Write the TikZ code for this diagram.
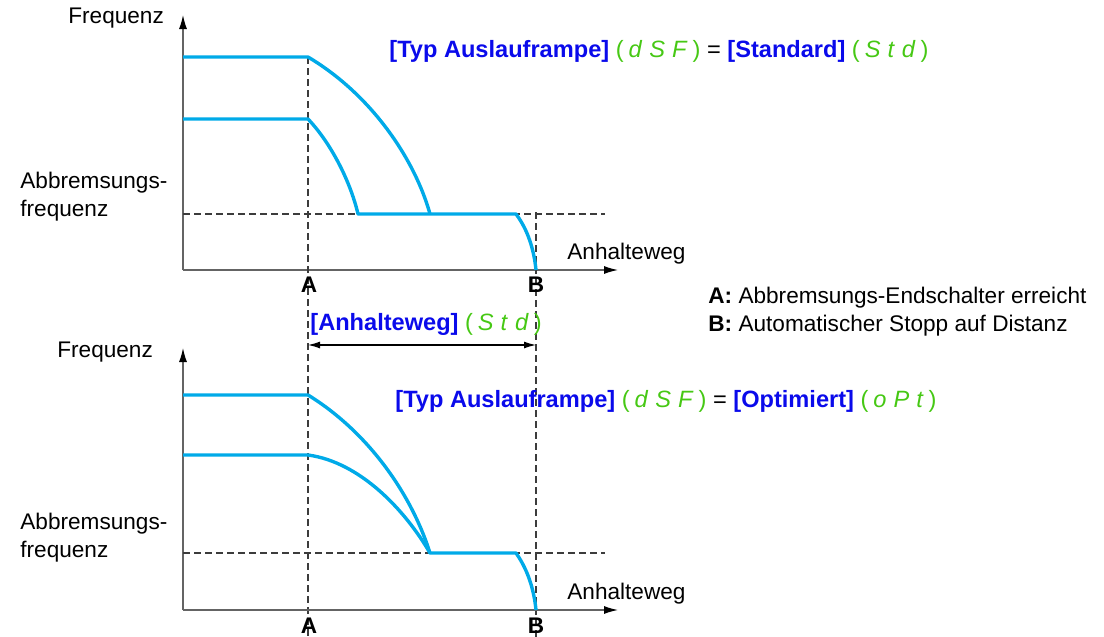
\documentclass[tikz,border=0pt]{standalone}
\usepackage{fontspec}
\setmainfont{Liberation Sans}
\usetikzlibrary{arrows.meta}
\definecolor{curve}{RGB}{0,170,232}
\definecolor{tblue}{RGB}{10,10,235}
\definecolor{sgreen}{RGB}{70,200,20}
\definecolor{axisgray}{RGB}{100,100,100}
\definecolor{dashgray}{RGB}{60,60,60}
\newcommand{\sg}[3]{{\color{sgreen}(\hspace{2.5pt}\textit{#1}\hspace{3.5pt}\textit{#2}\hspace{3.5pt}\textit{#3}\hspace{2.5pt})}}
\newcommand{\tb}[1]{{\color{tblue}\bfseries #1}}
\begin{document}
\begin{tikzpicture}[x=0.5pt,y=-0.5pt,
  every node/.style={font=\fontsize{11.3}{13.5}\selectfont, inner sep=0pt, text height=0.72em, text depth=0.21em},
  axis/.style={draw=axisgray, line width=0.6pt, -{Latex[length=7pt,width=4pt,color=black]}},
  guide/.style={draw=dashgray, line width=0.55pt, dash pattern=on 3.5pt off 2pt},
  ramp/.style={draw=curve, line width=1.7pt, line join=round},
  lbl/.style={anchor=west},
  title/.style={anchor=west, font=\fontsize{11.8}{14}\selectfont},
  pt/.style={font=\fontsize{11.3}{13.5}\selectfont\bfseries, anchor=center}]
\useasboundingbox (0,0) rectangle (1104,637);

% ---------- top chart ----------
\coordinate (o1) at (183,270);
\coordinate (ytop1) at (183,15);
\coordinate (xend1) at (618,270);
\draw[axis] (o1) -- (ytop1);
\draw[axis] (o1) -- (xend1);

\coordinate (h1a) at (183,57);
\coordinate (h1b) at (308,57);
\coordinate (h2a) at (183,119);
\coordinate (h2b) at (308,119);
\coordinate (lowA) at (358,214);
\coordinate (lowB) at (430,214);
\coordinate (lowC) at (516,214);
\coordinate (stop1) at (536,270);

\draw[guide] (183,214) -- (605,214);
\draw[guide] (308,57) -- (308,637);
\draw[guide] (536,212) -- (536,637);

\draw[ramp] (h1a) -- (h1b) .. controls (372,95) and (415,160) .. (lowB);
\draw[ramp] (h2a) -- (h2b) .. controls (330,142) and (350,180) .. (lowA) -- (lowC)
   .. controls (528,230) and (534,250) .. (stop1);

\node[lbl] (fq1) at (68,18) {Frequenz};
\node[lbl] (ab1) at (20,183) {Abbremsungs-};
\node[lbl] (fr1) at (20,211) {frequenz};
\node[lbl] (an1) at (567,254) {Anhalteweg};
\node[pt] (A1) at (309,287) {A};
\node[pt] (B1) at (536,287) {B};

\node[title] (t1) at (389,52) {\tb{[Typ Auslauframpe]} \sg{d}{S}{F} = \tb{[Standard]} \sg{S}{t}{d}};

% ---------- legend ----------
\node[lbl] (lA) at (708,298) {\textbf{A:} Abbremsungs-Endschalter erreicht};
\node[lbl] (lB) at (708,326) {\textbf{B:} Automatischer Stopp auf Distanz};

% ---------- distance ----------
\node[title] (dist) at (310,325) {\tb{[Anhalteweg]} \sg{S}{t}{d}};
\coordinate (dA) at (308,345);
\coordinate (dB) at (536,345);
\draw[line width=0.6pt, {Latex[length=6pt,width=3.5pt]}-{Latex[length=6pt,width=3.5pt]}] (dA) -- (dB);

% ---------- bottom chart ----------
\coordinate (o2) at (183,610);
\coordinate (ytop2) at (183,348);
\coordinate (xend2) at (618,610);
\draw[axis] (o2) -- (ytop2);
\draw[axis] (o2) -- (xend2);

\coordinate (g1a) at (183,395);
\coordinate (g1b) at (308,395);
\coordinate (g2a) at (183,455);
\coordinate (g2b) at (308,455);
\coordinate (m) at (430,553);
\coordinate (mC) at (516,553);
\coordinate (stop2) at (536,610);

\draw[guide] (183,553) -- (605,553);

\draw[ramp] (g1a) -- (g1b) .. controls (365,430) and (410,490) .. (m);
\draw[ramp] (g2a) -- (g2b) .. controls (360,462) and (405,510) .. (m) -- (mC)
   .. controls (528,570) and (534,590) .. (stop2);

\node[lbl] (fq2) at (57,352) {Frequenz};
\node[lbl] (ab2) at (20,524) {Abbremsungs-};
\node[lbl] (fr2) at (20,552) {frequenz};
\node[lbl] (an2) at (567,594) {Anhalteweg};
\node[pt] (A2) at (309,628) {A};
\node[pt] (B2) at (536,628) {B};

\node[title] (t2) at (395,402) {\tb{[Typ Auslauframpe]} \sg{d}{S}{F} = \tb{[Optimiert]} \sg{o}{P}{t}};
\end{tikzpicture}
\end{document}
